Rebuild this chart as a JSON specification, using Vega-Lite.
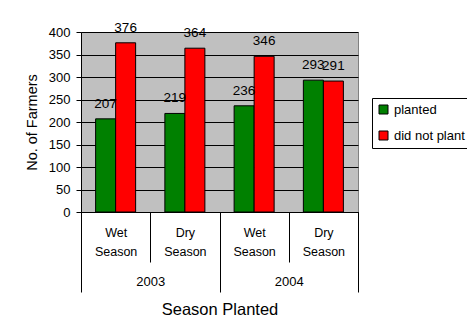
{
  "$schema": "https://vega.github.io/schema/vega-lite/v6.json",
  "width": 277,
  "height": 180,
  "autosize": {"type": "none"},
  "padding": {"left": 81, "top": 32, "right": 109, "bottom": 106},
  "background": "white",
  "config": {
    "font": "Liberation Sans",
    "view": {"fill": "#C0C0C0", "stroke": "#808080"}
  },
  "data": {
    "values": [
      {"period": "2003 Wet Season", "year": "2003", "series": "planted", "value": 207},
      {"period": "2003 Wet Season", "year": "2003", "series": "did not plant", "value": 376},
      {"period": "2003 Dry Season", "year": "2003", "series": "planted", "value": 219},
      {"period": "2003 Dry Season", "year": "2003", "series": "did not plant", "value": 364},
      {"period": "2004 Wet Season", "year": "2004", "series": "planted", "value": 236},
      {"period": "2004 Wet Season", "year": "2004", "series": "did not plant", "value": 346},
      {"period": "2004 Dry Season", "year": "2004", "series": "planted", "value": 293},
      {"period": "2004 Dry Season", "year": "2004", "series": "did not plant", "value": 291}
    ]
  },
  "layer": [
    {
      "encoding": {
        "x": {
          "field": "period",
          "type": "nominal",
          "sort": ["2003 Wet Season", "2003 Dry Season", "2004 Wet Season", "2004 Dry Season"],
          "scale": {"paddingInner": 0, "paddingOuter": 0},
          "axis": {
            "orient": "bottom",
            "title": null,
            "labelExpr": "length(split(datum.value + '', ' ')) > 1 ? [split(datum.value + '', ' ')[1], 'Season'] : ''",
            "tickBand": "extent",
            "tickSize": 50,
            "tickColor": "black",
            "domainColor": "black",
            "labelPadding": -36,
            "labelFontSize": 12.5,
            "labelColor": "black",
            "labelAngle": 0,
            "labelLineHeight": 19,
            "labelBaseline": "top"
          }
        },
        "xOffset": {
          "field": "series",
          "type": "nominal",
          "sort": ["planted", "did not plant"],
          "scale": {"paddingInner": 0, "paddingOuter": 0.73}
        },
        "y": {
          "field": "value",
          "type": "quantitative",
          "scale": {"domain": [0, 400]},
          "axis": {
            "title": "No. of Farmers",
            "values": [0, 50, 100, 150, 200, 250, 300, 350, 400],
            "grid": true,
            "gridColor": "black",
            "gridOpacity": 1,
            "domainColor": "black",
            "tickColor": "black",
            "tickSize": 5,
            "labelPadding": 6,
            "labelFontSize": 13,
            "labelColor": "black",
            "titleFontSize": 14.5,
            "titleFontWeight": "normal",
            "titleColor": "black",
            "titlePadding": 9
          }
        }
      },
      "layer": [
        {
          "mark": {"type": "bar", "stroke": "black", "strokeWidth": 1},
          "encoding": {
            "color": {
              "field": "series",
              "type": "nominal",
              "scale": {"domain": ["planted", "did not plant"], "range": ["#008000", "#FF0000"]},
              "legend": {
                "title": null,
                "orient": "none",
                "legendX": 291,
                "legendY": 66,
                "strokeColor": "black",
                "fillColor": "white",
                "padding": 5,
                "symbolType": "square",
                "symbolSize": 81,
                "symbolStrokeColor": "black",
                "symbolStrokeWidth": 1,
                "labelFontSize": 13,
                "labelColor": "black",
                "rowPadding": 12,
                "labelOffset": 4,
                "labelLimit": 200
              }
            }
          }
        },
        {
          "mark": {"type": "text", "dy": -11, "baseline": "alphabetic", "fontSize": 13.5, "color": "black"},
          "encoding": {"text": {"field": "value", "type": "quantitative"}}
        }
      ]
    },
    {
      "mark": {"type": "tick", "opacity": 0},
      "encoding": {
        "x": {
          "field": "year",
          "type": "nominal",
          "scale": {"paddingInner": 0, "paddingOuter": 0},
          "axis": {
            "orient": "bottom",
            "title": "Season Planted",
            "tickBand": "extent",
            "tickSize": 80,
            "labelPadding": -17,
            "labelAngle": 0,
            "labelBaseline": "top",
            "labelFontSize": 13,
            "labelColor": "black",
            "titleFontSize": 16.5,
            "titleFontWeight": "normal",
            "titleColor": "black",
            "titlePadding": 9,
            "domainColor": "black",
            "tickColor": "black"
          }
        }
      }
    }
  ],
  "resolve": {"scale": {"x": "independent"}, "axis": {"x": "independent"}}
}
